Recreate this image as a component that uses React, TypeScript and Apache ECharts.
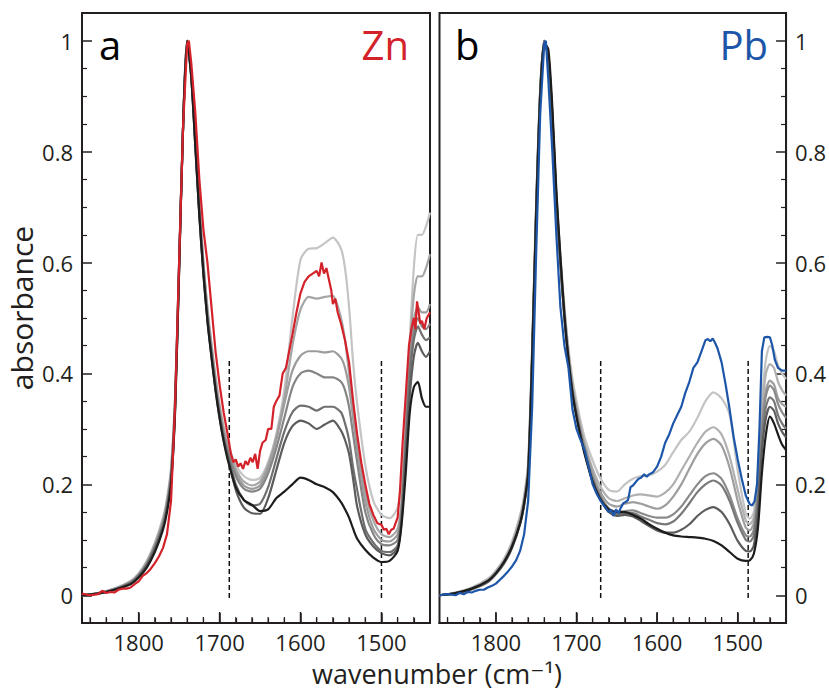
import React, { useEffect, useRef } from "react";
import * as echarts from "echarts";

// ---------- axis ticks ----------
const xMajor = [1800, 1700, 1600, 1500];
const xMinor = [1860, 1840, 1820, 1780, 1760, 1740, 1720, 1680, 1660, 1640, 1620, 1580, 1560, 1540, 1520, 1480, 1460];
const yMajor = [0, 0.2, 0.4, 0.6, 0.8, 1];
const yMinor = [0.05, 0.1, 0.15, 0.25, 0.3, 0.35, 0.45, 0.5, 0.55, 0.65, 0.7, 0.75, 0.85, 0.9, 0.95];

// ---------- panel a (Zn) ----------
const wnA = [1870, 1850, 1830, 1810, 1800, 1790, 1780, 1770, 1765, 1760, 1755, 1750, 1745, 1740, 1735, 1730, 1725, 1720, 1715, 1710, 1705, 1700, 1695, 1690, 1680, 1670, 1660, 1650, 1640, 1630, 1620, 1610, 1600, 1590, 1580, 1570, 1560, 1550, 1545, 1540, 1535, 1530, 1520, 1510, 1500, 1490, 1480, 1475, 1470, 1465, 1460, 1455, 1450, 1445, 1440];
const grayA1 = [0, 0.004, 0.012, 0.026, 0.04, 0.062, 0.095, 0.14, 0.175, 0.23, 0.36, 0.6, 0.85, 1.0, 0.945, 0.83, 0.71, 0.6, 0.52, 0.455, 0.395, 0.345, 0.305, 0.275, 0.235, 0.215, 0.208, 0.212, 0.24, 0.29, 0.37, 0.5, 0.605, 0.625, 0.626, 0.635, 0.645, 0.625, 0.59, 0.52, 0.42, 0.345, 0.235, 0.17, 0.145, 0.139, 0.158, 0.21, 0.31, 0.46, 0.59, 0.65, 0.65, 0.665, 0.69];
const grayA2 = [0, 0.004, 0.012, 0.025, 0.038, 0.06, 0.092, 0.135, 0.17, 0.225, 0.355, 0.6, 0.85, 1.0, 0.945, 0.83, 0.71, 0.6, 0.515, 0.45, 0.39, 0.34, 0.3, 0.27, 0.228, 0.205, 0.198, 0.205, 0.235, 0.285, 0.355, 0.45, 0.515, 0.538, 0.535, 0.538, 0.54, 0.5, 0.46, 0.4, 0.33, 0.27, 0.185, 0.135, 0.11, 0.105, 0.12, 0.17, 0.3, 0.44, 0.54, 0.575, 0.575, 0.59, 0.615];
const grayA3 = [0, 0.004, 0.011, 0.024, 0.037, 0.058, 0.09, 0.132, 0.166, 0.22, 0.35, 0.6, 0.85, 1.0, 0.94, 0.825, 0.7, 0.595, 0.51, 0.445, 0.385, 0.335, 0.295, 0.265, 0.222, 0.198, 0.192, 0.198, 0.23, 0.28, 0.345, 0.405, 0.432, 0.44, 0.44, 0.438, 0.44, 0.428, 0.41, 0.375, 0.32, 0.265, 0.17, 0.12, 0.1, 0.097, 0.11, 0.165, 0.29, 0.42, 0.495, 0.52, 0.51, 0.51, 0.525];
const grayA4 = [0, 0.004, 0.011, 0.023, 0.036, 0.056, 0.087, 0.128, 0.162, 0.215, 0.345, 0.595, 0.85, 1.0, 0.94, 0.82, 0.695, 0.59, 0.505, 0.44, 0.38, 0.33, 0.29, 0.26, 0.215, 0.192, 0.187, 0.192, 0.22, 0.265, 0.32, 0.375, 0.4, 0.405, 0.4, 0.393, 0.393, 0.385, 0.37, 0.34, 0.29, 0.24, 0.15, 0.11, 0.092, 0.09, 0.1, 0.155, 0.28, 0.41, 0.475, 0.5, 0.485, 0.48, 0.49];
const grayA5 = [0, 0.003, 0.01, 0.022, 0.035, 0.055, 0.085, 0.125, 0.158, 0.21, 0.34, 0.59, 0.85, 1.0, 0.935, 0.815, 0.69, 0.585, 0.5, 0.435, 0.375, 0.325, 0.285, 0.255, 0.2, 0.172, 0.162, 0.165, 0.195, 0.245, 0.295, 0.33, 0.342, 0.34, 0.333, 0.34, 0.34, 0.33, 0.31, 0.28, 0.23, 0.19, 0.12, 0.095, 0.08, 0.078, 0.09, 0.145, 0.27, 0.39, 0.46, 0.485, 0.47, 0.46, 0.465];
const grayA6 = [0, 0.003, 0.01, 0.021, 0.034, 0.053, 0.082, 0.122, 0.155, 0.205, 0.335, 0.59, 0.85, 1.0, 0.935, 0.81, 0.685, 0.58, 0.495, 0.43, 0.37, 0.32, 0.28, 0.25, 0.19, 0.158, 0.148, 0.147, 0.175, 0.225, 0.275, 0.305, 0.315, 0.31, 0.3, 0.308, 0.315, 0.297, 0.28, 0.255, 0.21, 0.16, 0.11, 0.088, 0.076, 0.072, 0.085, 0.135, 0.25, 0.36, 0.43, 0.455, 0.44, 0.43, 0.44];
const blackA = [0, 0.003, 0.01, 0.02, 0.032, 0.05, 0.078, 0.118, 0.15, 0.2, 0.33, 0.585, 0.85, 1.0, 0.935, 0.81, 0.685, 0.58, 0.495, 0.43, 0.37, 0.32, 0.278, 0.245, 0.195, 0.172, 0.163, 0.152, 0.155, 0.175, 0.187, 0.2, 0.212, 0.208, 0.2, 0.195, 0.186, 0.168, 0.155, 0.14, 0.12, 0.102, 0.082, 0.068, 0.06, 0.062, 0.08, 0.13, 0.22, 0.33, 0.375, 0.385, 0.355, 0.34, 0.34];
const redWn = [1870, 1860, 1850, 1845, 1840, 1835, 1830, 1825, 1820, 1815, 1810, 1805, 1800, 1795, 1790, 1785, 1780, 1775, 1770, 1765, 1760, 1755, 1750, 1745, 1740, 1738, 1735, 1730, 1725, 1720, 1715, 1710, 1705, 1700, 1695, 1690, 1686, 1683, 1680, 1677, 1674, 1671, 1668, 1665, 1662, 1659, 1656, 1653, 1650, 1647, 1643, 1640, 1636, 1633, 1630, 1626, 1622, 1618, 1614, 1610, 1605, 1600, 1595, 1590, 1585, 1580, 1577, 1574, 1571, 1568, 1565, 1562, 1560, 1557, 1554, 1550, 1545, 1540, 1535, 1530, 1525, 1520, 1515, 1510, 1505, 1500, 1497, 1494, 1491, 1488, 1485, 1480, 1477, 1474, 1470, 1466, 1463, 1460, 1458, 1456, 1454, 1452, 1450, 1447, 1444, 1440];
const redAbs = [0.003, 0.0, 0.002, 0.008, 0.004, 0.006, 0.005, 0.01, 0.012, 0.012, 0.014, 0.02, 0.025, 0.035, 0.04, 0.048, 0.058, 0.07, 0.085, 0.11, 0.17, 0.34, 0.6, 0.85, 0.995, 1.0, 0.96, 0.87, 0.75, 0.66, 0.6, 0.52, 0.44, 0.38, 0.33, 0.29, 0.255, 0.24, 0.245, 0.232, 0.238, 0.228, 0.242, 0.235, 0.248, 0.24, 0.255, 0.228, 0.26, 0.275, 0.28, 0.3, 0.3, 0.34, 0.35, 0.36, 0.4, 0.41, 0.44, 0.47, 0.51, 0.545, 0.565, 0.575, 0.58, 0.585, 0.575, 0.6, 0.58, 0.59, 0.57, 0.55, 0.525, 0.535, 0.51, 0.49, 0.46, 0.42, 0.35, 0.29, 0.24, 0.2, 0.165, 0.145, 0.13, 0.127, 0.118, 0.12, 0.11, 0.118, 0.12, 0.14, 0.19, 0.27, 0.36, 0.45, 0.48, 0.5, 0.48, 0.53, 0.51, 0.49, 0.495, 0.48, 0.5, 0.51];
const dashA = [1688, 1500];

// ---------- panel b (Pb) ----------
const wnB = [1870, 1850, 1830, 1810, 1800, 1790, 1780, 1770, 1765, 1760, 1755, 1750, 1745, 1740, 1735, 1730, 1725, 1720, 1715, 1710, 1705, 1700, 1695, 1690, 1680, 1670, 1660, 1650, 1640, 1630, 1620, 1610, 1600, 1590, 1580, 1570, 1560, 1550, 1540, 1530, 1520, 1510, 1500, 1490, 1485, 1480, 1475, 1470, 1465, 1460, 1455, 1450, 1445, 1440];
const grayB1 = [0, 0.005, 0.014, 0.03, 0.045, 0.066, 0.097, 0.145, 0.18, 0.24, 0.45, 0.71, 0.915, 1.0, 0.97, 0.87, 0.725, 0.615, 0.52, 0.445, 0.39, 0.35, 0.315, 0.285, 0.243, 0.21, 0.19, 0.187, 0.2, 0.21, 0.215, 0.216, 0.223, 0.235, 0.258, 0.28, 0.295, 0.32, 0.35, 0.366, 0.355, 0.325, 0.225, 0.148, 0.138, 0.15, 0.22, 0.35, 0.425, 0.45, 0.44, 0.415, 0.4, 0.39];
const grayB2 = [0, 0.005, 0.013, 0.028, 0.043, 0.063, 0.094, 0.14, 0.175, 0.235, 0.445, 0.705, 0.91, 1.0, 0.97, 0.865, 0.72, 0.61, 0.515, 0.44, 0.38, 0.34, 0.305, 0.275, 0.228, 0.195, 0.175, 0.17, 0.175, 0.18, 0.182, 0.18, 0.178, 0.185, 0.2, 0.225, 0.25, 0.275, 0.295, 0.303, 0.29, 0.25, 0.19, 0.135, 0.128, 0.14, 0.2, 0.33, 0.4, 0.417, 0.41, 0.385, 0.37, 0.36];
const grayB3 = [0, 0.004, 0.012, 0.027, 0.041, 0.061, 0.091, 0.136, 0.172, 0.23, 0.44, 0.7, 0.91, 1.0, 0.97, 0.865, 0.715, 0.605, 0.51, 0.435, 0.375, 0.335, 0.3, 0.27, 0.22, 0.185, 0.165, 0.16, 0.165, 0.168, 0.165, 0.16, 0.156, 0.162, 0.178, 0.2, 0.228, 0.255, 0.274, 0.282, 0.27, 0.23, 0.17, 0.122, 0.117, 0.13, 0.19, 0.31, 0.37, 0.387, 0.38, 0.355, 0.345, 0.34];
const grayB4 = [0, 0.004, 0.012, 0.026, 0.04, 0.06, 0.089, 0.133, 0.168, 0.225, 0.435, 0.7, 0.91, 1.0, 0.97, 0.86, 0.71, 0.6, 0.505, 0.43, 0.37, 0.33, 0.295, 0.265, 0.212, 0.178, 0.157, 0.15, 0.152, 0.153, 0.148, 0.143, 0.14, 0.14, 0.146, 0.16, 0.18, 0.2, 0.215, 0.22, 0.21, 0.18, 0.138, 0.108, 0.106, 0.118, 0.18, 0.3, 0.36, 0.378, 0.37, 0.345, 0.33, 0.32];
const grayB5 = [0, 0.004, 0.011, 0.025, 0.039, 0.058, 0.087, 0.13, 0.165, 0.22, 0.43, 0.695, 0.905, 1.0, 0.97, 0.86, 0.71, 0.6, 0.5, 0.425, 0.365, 0.325, 0.29, 0.26, 0.208, 0.175, 0.153, 0.146, 0.148, 0.148, 0.142, 0.136, 0.13, 0.128, 0.133, 0.147, 0.166, 0.186, 0.2, 0.207, 0.198, 0.17, 0.13, 0.1, 0.097, 0.108, 0.17, 0.28, 0.34, 0.357, 0.35, 0.325, 0.31, 0.3];
const grayB6 = [0, 0.004, 0.011, 0.024, 0.038, 0.057, 0.085, 0.128, 0.162, 0.215, 0.425, 0.69, 0.905, 1.0, 0.975, 0.865, 0.715, 0.6, 0.5, 0.425, 0.365, 0.322, 0.287, 0.258, 0.205, 0.172, 0.15, 0.143, 0.145, 0.142, 0.134, 0.125, 0.117, 0.113, 0.113, 0.118, 0.128, 0.143, 0.154, 0.159, 0.15, 0.128, 0.098, 0.08, 0.079, 0.09, 0.15, 0.26, 0.32, 0.34, 0.333, 0.31, 0.295, 0.285];
const blackB = [0, 0.004, 0.012, 0.026, 0.04, 0.06, 0.088, 0.13, 0.165, 0.22, 0.43, 0.69, 0.9, 0.995, 0.985, 0.88, 0.73, 0.61, 0.505, 0.425, 0.365, 0.322, 0.287, 0.255, 0.205, 0.172, 0.155, 0.15, 0.15, 0.145, 0.138, 0.128, 0.12, 0.113, 0.108, 0.106, 0.105, 0.104, 0.102, 0.098, 0.09, 0.078, 0.066, 0.062, 0.063, 0.075, 0.12, 0.22, 0.29, 0.322, 0.31, 0.29, 0.272, 0.262];
const blueWn = [1870, 1860, 1850, 1845, 1840, 1835, 1830, 1825, 1820, 1815, 1810, 1805, 1800, 1795, 1790, 1785, 1780, 1775, 1770, 1765, 1760, 1755, 1750, 1745, 1740, 1738, 1735, 1730, 1725, 1720, 1715, 1710, 1705, 1700, 1696, 1690, 1685, 1680, 1675, 1670, 1665, 1660, 1657, 1654, 1651, 1648, 1645, 1642, 1639, 1636, 1633, 1630, 1626, 1623, 1620, 1616, 1613, 1610, 1605, 1600, 1595, 1590, 1585, 1580, 1575, 1570, 1565, 1560, 1555, 1550, 1545, 1540, 1537, 1534, 1531, 1528, 1525, 1520, 1515, 1510, 1505, 1500, 1495, 1490, 1485, 1482, 1479, 1476, 1473, 1470, 1467, 1463, 1460, 1457, 1454, 1450, 1445, 1440];
const blueAbs = [0.0, 0.002, 0.0, 0.004, 0.002, 0.006, 0.005, 0.008, 0.01, 0.01, 0.014, 0.017, 0.021, 0.028, 0.035, 0.043, 0.052, 0.063, 0.08, 0.11, 0.17, 0.34, 0.62, 0.87, 0.995, 1.0, 0.93, 0.8, 0.65, 0.52, 0.45, 0.41, 0.335, 0.3, 0.284, 0.262, 0.232, 0.2, 0.183, 0.17, 0.16, 0.15, 0.154, 0.143, 0.155, 0.148, 0.158, 0.166, 0.168, 0.172, 0.195, 0.198, 0.205, 0.21, 0.212, 0.218, 0.214, 0.218, 0.222, 0.232, 0.25, 0.275, 0.29, 0.31, 0.325, 0.34, 0.365, 0.385, 0.41, 0.42, 0.44, 0.46, 0.462, 0.458, 0.463, 0.455, 0.445, 0.42, 0.38, 0.335, 0.285, 0.245, 0.21, 0.18, 0.164, 0.162, 0.17, 0.2, 0.3, 0.44, 0.465, 0.466, 0.465, 0.45, 0.425, 0.41, 0.405, 0.405];
const dashB = [1670, 1487];
const dashRange = [-0.005, 0.425];

// ---------- styles ----------
const FONT = '"Open Sans", "DejaVu Sans", sans-serif';
const INK = "#231f20";
const RED = "#d3222a";
const BLUE = "#1d56a8";
const grayColorsA = ["#c4c4c4", "#a6a6a6", "#9c9c9c", "#858585", "#6f6f6f", "#5c5c5c", "#1c1c1c"];
const grayColorsB = ["#c4c4c4", "#b0b0b0", "#9e9e9e", "#8a8a8a", "#787878", "#5c5c5c", "#1c1c1c"];
const Y_MIN = -0.05;
const Y_MAX = 1.05;
const PLOT_H = 610;

const pairs = (xs: number[], ys: number[]) => xs.map((x, i) => [x, ys[i]]);

export default function App() {
  const ref = useRef<HTMLDivElement>(null);
  useEffect(() => {
    const chart = echarts.init(ref.current!, null, { renderer: "svg" });

    const grid = [
      { left: 82, top: 13, width: 348, height: PLOT_H },
      { left: 439.5, top: 13, width: 348, height: PLOT_H },
    ].map((g) => ({ ...g, show: true, borderColor: INK, borderWidth: 2, backgroundColor: "transparent" }));

    // y axes per grid: [0] major ticks + labels, [1] minor ticks, [2] hidden helper (0 at the bottom edge)
    const xAxis: any[] = [];
    const yAxis: any[] = [];
    [0, 1].forEach((gi) => {
      const helperIndex = gi * 3 + 2;
      const xLine = { show: true, onZero: true, onZeroAxisIndex: helperIndex, lineStyle: { color: INK, width: 2 } };
      const xbase = {
        gridIndex: gi, type: "value", min: 1440, max: 1870, inverse: true, position: "bottom",
        axisLine: xLine, splitLine: { show: false },
      };
      xAxis.push({
        ...xbase,
        axisTick: { show: true, inside: true, length: 10, customValues: xMajor, lineStyle: { color: INK, width: 1.5 } },
        axisLabel: {
          show: true, customValues: xMajor, fontSize: 22, fontFamily: FONT, color: INK, margin: 8,
          formatter: (v: number) => String(Math.round(v)),
        },
      });
      xAxis.push({
        ...xbase,
        axisTick: { show: true, inside: true, length: 5, customValues: xMinor, lineStyle: { color: INK, width: 1.2 } },
        axisLabel: { show: false },
      });
      const pos = gi === 0 ? "left" : "right";
      const yLine = { show: true, onZero: false, lineStyle: { color: INK, width: 2 } };
      const ybase = {
        gridIndex: gi, type: "value", min: Y_MIN, max: Y_MAX, position: pos,
        axisLine: yLine, splitLine: { show: false },
      };
      yAxis.push({
        ...ybase,
        axisTick: { show: true, inside: true, length: 10, customValues: yMajor, lineStyle: { color: INK, width: 1.5 } },
        axisLabel: {
          show: true, customValues: yMajor, fontSize: 22, fontFamily: FONT, color: INK, margin: 9,
          formatter: (v: number) => (v === 0 ? "0" : v === 1 ? "1" : v.toFixed(1)),
        },
      });
      yAxis.push({
        ...ybase,
        axisTick: { show: true, inside: true, length: 5, customValues: yMinor, lineStyle: { color: INK, width: 1.2 } },
        axisLabel: { show: false },
      });
      yAxis.push({ gridIndex: gi, type: "value", min: 0, max: 1, show: false, position: pos });
    });

    const lineS = (gi: number, data: number[][], color: string, smooth: number | boolean) => ({
      type: "line",
      xAxisIndex: gi * 2,
      yAxisIndex: gi * 3,
      data,
      symbol: "none",
      smooth,
      silent: true,
      lineStyle: { color, width: 2.2 },
    });
    const dashS = (gi: number, x: number) => ({
      type: "line",
      xAxisIndex: gi * 2,
      yAxisIndex: gi * 3,
      data: [[x, dashRange[0]], [x, dashRange[1]]],
      symbol: "none",
      silent: true,
      lineStyle: { color: "#111", width: 1.5, type: [5, 3] },
    });

    const seriesA = [grayA1, grayA2, grayA3, grayA4, grayA5, grayA6, blackA];
    const seriesB = [grayB1, grayB2, grayB3, grayB4, grayB5, grayB6, blackB];

    const series: any[] = [
      ...dashA.map((x) => dashS(0, x)),
      ...dashB.map((x) => dashS(1, x)),
      ...seriesA.map((ys, i) => lineS(0, pairs(wnA, ys), grayColorsA[i], 0.25)),
      lineS(0, pairs(redWn, redAbs), RED, false),
      ...seriesB.map((ys, i) => lineS(1, pairs(wnB, ys), grayColorsB[i], 0.25)),
      lineS(1, pairs(blueWn, blueAbs), BLUE, false),
    ];

    const txt = (text: string, x: number, y: number, size: number, fill: string, align: string, rotation = 0) => ({
      type: "text",
      x,
      y,
      rotation,
      silent: true,
      z: 100,
      style: { text, fontSize: size, fontFamily: FONT, fill, align, verticalAlign: "middle" },
    });
    const texts = [
      txt("a", 99, 44, 40, "#000", "left"),
      txt("Zn", 409, 44, 40, RED, "right"),
      txt("b", 455, 44, 40, "#000", "left"),
      txt("Pb", 768, 44, 40, BLUE, "right"),
      txt("absorbance", 21, 308, 30, INK, "center", Math.PI / 2),
      txt("wavenumber (cm\u207B\u00B9)", 437, 673, 27, INK, "center"),
    ];

    chart.setOption({
      animation: false,
      backgroundColor: "#fff",
      grid,
      xAxis,
      yAxis,
      series,
      graphic: texts,
    });

    // x-axis ticks: positions obtained from the axis scales, drawn on top
    const ticks: any[] = [];
    try {
      [0, 1].forEach((gi) => {
        const finder = { xAxisIndex: gi * 2, yAxisIndex: gi * 3 };
        const sets: [number[], number, number][] = [[xMajor, 10, 1.5], [xMinor, 5, 1.2]];
        sets.forEach(([vals, len, w]) => {
          vals.forEach((v) => {
            const p = chart.convertToPixel(finder as any, [v, Y_MIN]) as any;
            if (p && isFinite(p[0]) && isFinite(p[1])) {
              ticks.push({
                type: "line",
                silent: true,
                z: 100,
                shape: { x1: p[0], y1: p[1] - 1, x2: p[0], y2: p[1] - 1 - len },
                style: { stroke: INK, lineWidth: w },
              });
            }
          });
        });
      });
    } catch (e) {
      // keep chart without extra ticks if conversion fails
    }
    if (ticks.length) chart.setOption({ graphic: [...texts, ...ticks] });

    return () => chart.dispose();
  }, []);
  return <div ref={ref} style={{ position: "fixed", left: 0, top: 0, width: 829, height: 691, background: "#fff" }} />;
}
